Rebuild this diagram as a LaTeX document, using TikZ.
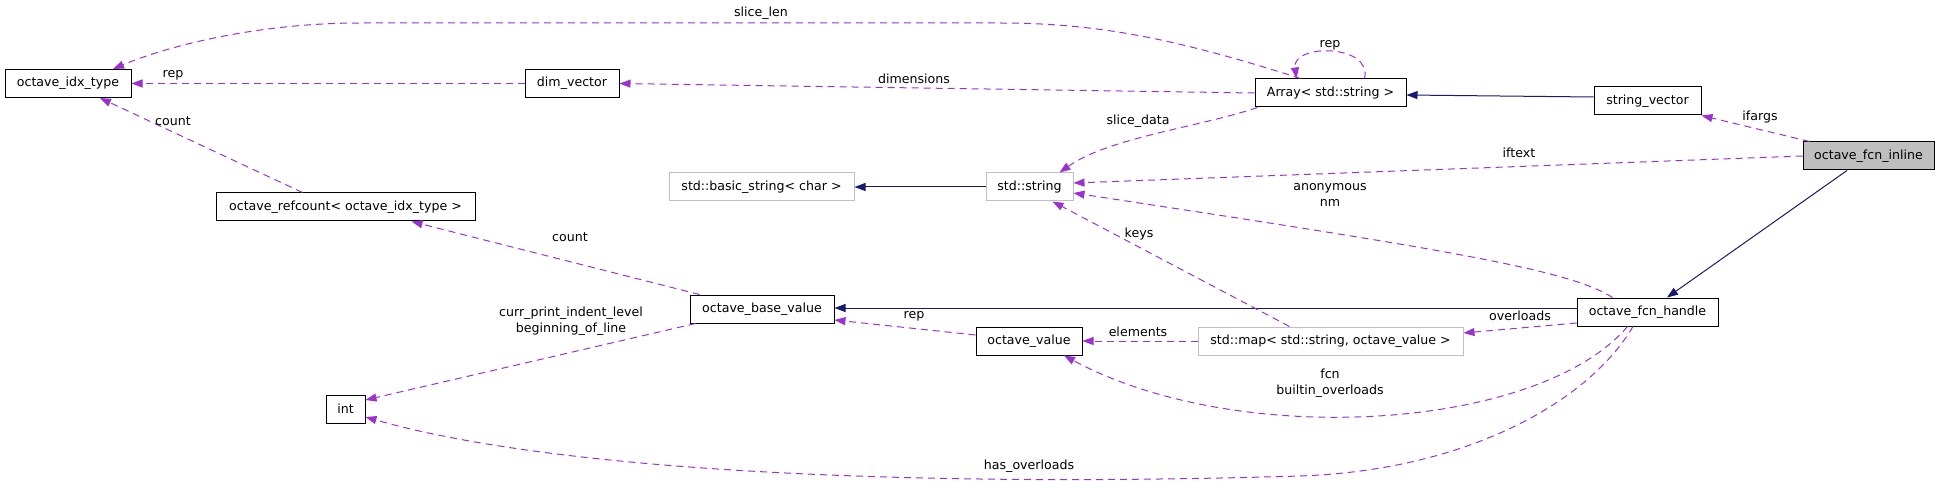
\documentclass[tikz,border=0pt]{standalone}
\usepackage{fontspec}
\setmainfont{DejaVu Sans}
\usetikzlibrary{arrows.meta}
\definecolor{memcol}{RGB}{154,50,205}
\definecolor{inhcol}{RGB}{25,25,112}
\definecolor{extcol}{RGB}{191,191,191}

\begin{document}
\begin{tikzpicture}[
  x=1pt, y=-1pt,
  font=\fontsize{12.6pt}{16pt}\selectfont, >={Triangle[length=11pt,width=8pt]},
  cls/.style={draw=black, fill=white, line width=1pt, minimum height=28pt, inner sep=0pt},
  extcls/.style={cls, draw=extcol},
  focus/.style={cls, fill=extcol},
  inh/.style={->, draw=inhcol, line width=1pt},
  member/.style={->, draw=memcol, line width=1pt, dash pattern=on 7pt off 5pt},
  lbl/.style={align=center, inner sep=0pt},
]
\useasboundingbox (0,0) rectangle (1939,481);

% ------------------------------------------------------------------ classes
\node[cls, minimum width=126pt] (idx)  at (68,83.5)    {octave\_idx\_type};
\node[cls, minimum width=94pt]  (dimv) at (572,83.5)   {dim\_vector};
\node[cls, minimum width=151pt] (arr)  at (1330.5,93)  {Array< std::string >};
\node[cls, minimum width=107pt] (strv) at (1647.5,101) {string\_vector};
\node[focus, minimum width=131pt] (inl) at (1868.5,156) {octave\_fcn\_inline};
\node[extcls, minimum width=185pt] (bstr) at (761.5,187) {std::basic\_string< char >};
\node[extcls, minimum width=87pt]  (str)  at (1029.5,187) {std::string};
\node[cls, minimum width=259pt] (refc) at (345.5,207)  {octave\_refcount< octave\_idx\_type >};
\node[cls, minimum width=144pt] (obv)  at (762,309)    {octave\_base\_value};
\node[cls, minimum width=141pt] (fh)   at (1647.5,312) {octave\_fcn\_handle};
\node[cls, minimum width=106pt] (ov)   at (1029,341)   {octave\_value};
\node[extcls, minimum width=265pt] (map) at (1330.5,341) {std::map< std::string, octave\_value >};
\node[cls, minimum width=39pt]  (int)  at (345.5,409)  {int};

% ------------------------------------------------------------------ inheritance
\draw[inh] ([yshift=4pt]strv.west) -- ([yshift=-2pt]arr.east);
\draw[inh] (str.west) -- (bstr.east);
\draw[inh] ([yshift=4pt]fh.west) -- ([yshift=1pt]obv.east);
\draw[inh] ([xshift=-21.5pt]inl.south) -- ([xshift=19.5pt]fh.north);

% ------------------------------------------------------------------ members
\draw[member] ([xshift=-30pt]arr.north) .. controls (1180,40) and (1100,23) .. (1000,23)
  -- (360,23) .. controls (260,23) and (170,45) .. ([xshift=45pt]idx.north);
\draw[member] (dimv.west) -- (idx.east);
\draw[member] (arr.west) -- (dimv.east);
\draw[member] ([xshift=34pt]arr.north) .. controls +(8,-35) and +(-5,-35) .. ([xshift=-34pt]arr.north);
\draw[member] ([xshift=3pt]arr.south west) .. controls +(-60,20) and +(50,-35) .. ([xshift=30pt]str.north);
\draw[member] ([xshift=7pt]inl.north west) -- (strv.south east);
\draw[member] (inl.west) -- ([yshift=4pt]str.east);
\draw[member] ([xshift=-35pt]fh.north) .. controls (1570,270) and (1450,250) .. ([yshift=-6pt]str.east);
\draw[member] ([xshift=-41pt]map.north) -- ([xshift=23pt]str.south);
\draw[member] ([xshift=-43pt]refc.north) -- ([xshift=32pt]idx.south);
\draw[member] ([xshift=10pt]obv.north west) -- ([xshift=66pt]refc.south);
\draw[member] ([xshift=6pt]obv.south west) -- ([yshift=9pt]int.east);
\draw[member] ([yshift=6pt]ov.west) -- ([yshift=-11pt]obv.east);
\draw[member] (map.west) -- (ov.east);
\draw[member] ([yshift=-11pt]fh.west) -- ([yshift=8pt]map.east);
\draw[member] ([xshift=-20pt]fh.south) .. controls (1540,430) and (1240,450) .. ([xshift=35pt]ov.south);
\draw[member] ([xshift=-14.5pt]fh.south) .. controls (1590,400) and (1470,470) .. (1300,476)
  .. controls (900,488) and (550,470) .. ([yshift=-8pt]int.east);

% ------------------------------------------------------------------ labels
\node[lbl] (lslicelen)  at (761,13)    {slice\_len};
\node[lbl] (lrepidx)    at (173,75)    {rep};
\node[lbl] (ldims)      at (914,79)    {dimensions};
\node[lbl] (lreparr)    at (1330,45)   {rep};
\node[lbl] (lslicedata) at (1138,121)  {slice\_data};
\node[lbl] (lifargs)    at (1760,117)  {ifargs};
\node[lbl] (liftext)    at (1519,153)  {iftext};
\node[lbl] (lanon)      at (1330,195)  {anonymous\\nm};
\node[lbl] (lkeys)      at (1139,234)  {keys};
\node[lbl] (lcountidx)  at (173,121)   {count};
\node[lbl] (lcountobv)  at (570,237)   {count};
\node[lbl] (lindent)    at (571,321)   {curr\_print\_indent\_level\\beginning\_of\_line};
\node[lbl] (lrepobv)    at (914,316)   {rep};
\node[lbl] (lelems)     at (1138,332)  {elements};
\node[lbl] (loverloads) at (1520,316)  {overloads};
\node[lbl] (lfcn)       at (1330,383.5) {fcn\\builtin\_overloads};
\node[lbl] (lhasover)   at (1029,466)  {has\_overloads};
\end{tikzpicture}
\end{document}
